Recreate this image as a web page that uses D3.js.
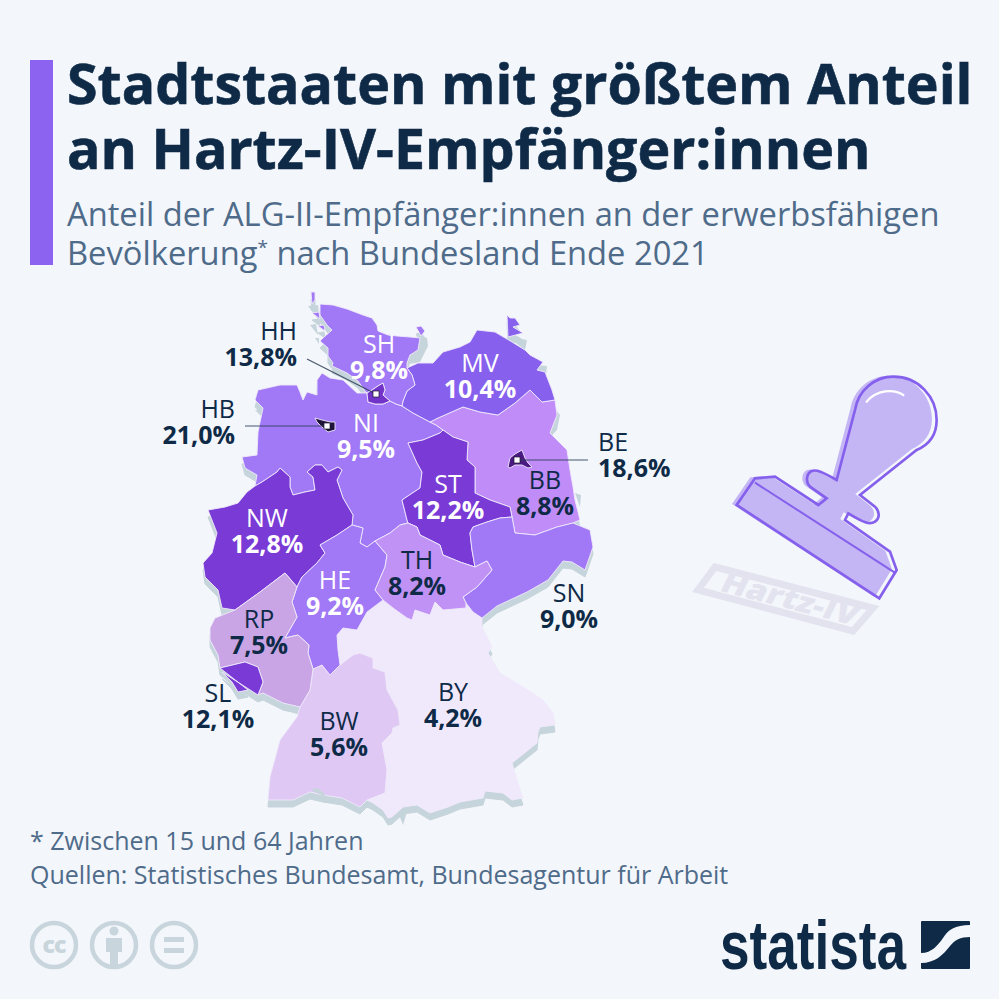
<!DOCTYPE html>
<html lang="de">
<head>
<meta charset="utf-8">
<title>Stadtstaaten mit größtem Anteil an Hartz-IV-Empfänger:innen</title>
<script src="https://cdn.jsdelivr.net/npm/d3@7"></script>
<style>
  html, body { margin: 0; padding: 0; background: #f3f6fa; }
  svg { display: block; font-family: "Open Sans", sans-serif; }
</style>
</head>
<body>
<svg id="chart" width="999" height="999" viewBox="0 0 999 999"></svg>
<script>
/* Choropleth of Germany. Borders are stored like a TopoJSON file: shared
   quantized arcs plus a transform back to lon/lat. */

// --- Data ---
const stateCodes = ["SH", "HH", "MV", "HB", "NI", "BB", "BE", "ST", "NW", "SN", "TH", "HE", "RP", "SL", "BW", "BY"];
const shares = [9.8, 13.8, 10.4, 21.0, 9.5, 8.8, 18.6, 12.2, 12.8, 9.0, 8.2, 9.2, 7.5, 12.1, 5.6, 4.2];

const titleLines = ["Stadtstaaten mit größtem Anteil", "an Hartz-IV-Empfänger:innen"];
const footnotes = ["* Zwischen 15 und 64 Jahren", "Quellen: Statistisches Bundesamt, Bundesagentur für Arbeit"];

// Quantized border arcs (grid units; decoded through arcTransform).
const arcTransform = { scale: [0.02345, -0.014838], translate: [1.1096, 59.3927] };
const arcs = {
  sh_coast: [[367,393],[365,391],[358,381],[347,373],[332,366],[333,363],[328,356],[328,348],[320,341],[323,338],[332,330],[327,325],[320,315],[320,304],[333,305],[347,309],[363,315],[372,318],[377,325],[378,331],[388,335],[397,336],[410,337],[420,338],[418,350],[410,355],[407,363],[407,368]],
  sh_mv: [[407,368],[412,375],[415,385],[407,391],[403,401],[402,406]],
  sh_ni: [[402,406],[396,404],[390,401]],
  hh_sh: [[367,393],[372,390],[378,386],[383,383],[385,390],[383,395],[390,401]],
  hh_ni: [[390,401],[383,404],[375,404],[368,402],[367,393]],
  ni_mv: [[402,406],[413,413],[430,422]],
  ni_bb: [[430,422],[436,425],[443,430]],
  ni_st: [[443,430],[440,433],[423,440],[408,443],[417,463],[422,472],[420,488],[402,500],[407,520],[408,523]],
  ni_th: [[408,523],[400,525],[390,533],[375,541]],
  ni_he: [[375,541],[367,547],[360,543],[363,528],[352,525]],
  ni_nw: [[352,525],[353,515],[343,498],[337,480],[342,470],[338,467],[328,472],[322,465],[315,465],[307,472],[313,477],[315,490],[305,492],[293,495],[290,487],[290,477],[280,468],[277,472],[262,482],[255,486]],
  ni_coast: [[255,486],[257,475],[245,468],[242,457],[257,455],[258,432],[263,408],[255,400],[258,390],[280,385],[297,385],[300,392],[303,400],[307,392],[317,395],[317,380],[322,373],[330,378],[343,380],[357,393],[367,393]],
  mv_coast: [[407,368],[418,363],[433,363],[443,352],[460,347],[470,342],[477,330],[495,332],[512,342],[525,350],[530,355],[543,362],[537,370],[545,372],[552,390],[555,400]],
  mv_bb: [[555,400],[542,402],[530,390],[515,403],[498,415],[480,412],[463,407],[438,418],[430,422]],
  bb_coast: [[555,400],[557,415],[550,433],[567,450],[570,470],[573,487],[575,500],[580,520],[573,523]],
  bb_sn: [[573,523],[557,527],[535,535],[515,533],[512,517]],
  bb_st: [[512,517],[510,507],[490,500],[475,493],[475,467],[467,460],[468,442],[453,437],[443,430]],
  st_sn: [[512,517],[500,518],[487,522],[473,527],[470,533],[472,550],[475,567]],
  st_th: [[475,567],[460,562],[443,555],[440,545],[420,535],[417,527],[408,523]],
  th_sn: [[475,567],[487,561],[492,570],[477,587],[463,597],[466,603]],
  th_by: [[466,603],[466,608],[443,610],[435,602],[430,615],[415,610],[412,620],[407,618],[393,608],[383,600]],
  he_th: [[383,600],[375,590],[385,567],[387,555],[375,541]],
  sn_coast: [[573,523],[590,530],[593,547],[585,570],[572,562],[563,561],[548,580],[527,592],[497,606],[482,618]],
  sn_by: [[482,618],[473,612],[466,603]],
  by_coast: [[482,618],[482,627],[492,647],[488,653],[500,673],[523,687],[543,700],[553,713],[555,725],[540,727],[538,732],[537,743],[512,763],[518,783],[523,798],[512,800],[503,793],[485,791],[483,798],[460,802],[448,807],[430,813],[417,805],[403,807],[392,817],[388,818],[383,810],[373,803],[367,800]],
  by_bw: [[367,800],[385,793],[387,770],[382,743],[392,733],[393,728],[400,725],[398,710],[387,690],[385,672],[373,668],[373,658],[360,653],[353,655],[340,665]],
  he_by: [[340,665],[338,650],[337,635],[343,628],[357,630],[367,612],[383,600]],
  he_bw: [[340,665],[330,675],[322,665],[313,669]],
  he_rp: [[313,669],[308,653],[309,645],[298,635],[285,638],[297,617],[292,602],[297,587]],
  he_nw: [[297,587],[302,577],[317,563],[325,553],[320,545],[337,535],[352,525]],
  nw_rp: [[297,587],[285,573],[260,592],[235,610]],
  nw_coast: [[235,610],[222,608],[218,590],[205,577],[203,563],[212,553],[217,533],[208,510],[225,507],[238,503],[247,492],[255,486]],
  rp_bw: [[313,669],[310,690],[300,707]],
  rp_coast: [[300,707],[283,703],[263,693],[258,695]],
  rp_sl: [[258,695],[263,682],[258,667],[245,662],[220,668]],
  rp_west: [[220,668],[218,655],[210,640],[210,628],[215,618],[235,610]],
  sl_coast: [[220,668],[222,672],[232,682],[238,692],[248,690],[258,695]],
  bw_coast: [[367,800],[360,807],[342,798],[323,795],[310,792],[293,800],[268,800],[270,777],[280,740],[297,717],[300,707]],
  hb_ring: [[315,418],[322,420],[330,422],[335,422],[335,430],[328,432],[322,427],[317,422],[315,418]],
  be_ring: [[508,467],[510,458],[515,454],[522,450],[525,458],[528,463],[532,467],[528,468],[522,465],[515,465],[510,468],[508,467]]
};

// Ring of each state as arc names; a leading "-" walks the arc backwards.
const stateRings = {
  SH: ["sh_coast", "sh_mv", "sh_ni", "-hh_sh"],
  HH: ["hh_sh", "hh_ni"],
  MV: ["mv_coast", "mv_bb", "-ni_mv", "-sh_mv"],
  HB: ["hb_ring"],
  NI: ["-hh_ni", "-sh_ni", "ni_mv", "ni_bb", "ni_st", "ni_th", "ni_he", "ni_nw", "ni_coast"],
  BB: ["-mv_bb", "bb_coast", "bb_sn", "bb_st", "-ni_bb"],
  BE: ["be_ring"],
  ST: ["-bb_st", "st_sn", "st_th", "-ni_st"],
  NW: ["-ni_nw", "-he_nw", "nw_rp", "nw_coast"],
  SN: ["-bb_sn", "sn_coast", "sn_by", "-th_sn", "-st_sn"],
  TH: ["-ni_th", "-st_th", "th_sn", "th_by", "he_th"],
  HE: ["-ni_he", "-he_th", "-he_by", "he_bw", "he_rp", "he_nw"],
  RP: ["-nw_rp", "-he_rp", "rp_bw", "rp_coast", "rp_sl", "rp_west"],
  SL: ["-rp_sl", "sl_coast"],
  BW: ["-by_bw", "bw_coast", "-rp_bw", "-he_bw"],
  BY: ["-th_by", "-sn_by", "by_coast", "by_bw", "he_by"]
};

// Islands belong to a state; mudflats and lakes are the grey patches.
const islands = [
  { code: "SH", ring: [[311,292],[315,292],[315,300],[312,304],[310,300]] },
  { code: "SH", ring: [[312,313],[319,312],[320,319],[314,321]] },
  { code: "SH", ring: [[318,326],[324,325],[325,331],[320,332]] },
  { code: "SH", ring: [[416,327],[421,326],[425,331],[421,336],[416,333]] },
  { code: "MV", ring: [[507,315],[510,318],[515,318],[520,325],[513,327],[523,333],[508,337],[500,327]] }
];
const mudflats = [
  [[308,306],[318,305],[320,322],[313,323]],
  [[310,325],[316,324],[318,335],[312,336]],
  [[328,327],[335,328],[335,333],[329,334]],
  [[315,338],[319,338],[319,344],[315,344]],
  [[327,355],[335,357],[335,364],[328,363]],
  [[333,371],[347,372],[354,379],[340,379]],
  [[418,336],[427,338],[428,346],[420,362],[410,364],[411,354]],
  [[255,410],[263,410],[263,418],[255,418]],
  [[242,467],[252,469],[256,478],[246,479]],
  [[508,337],[527,340],[525,350],[512,347]],
  [[537,365],[547,366],[546,375],[537,374]],
  [[556,410],[560,415],[557,430],[551,436],[548,432]],
  [[575,493],[581,495],[580,507],[576,507]],
  [[398,812],[407,812],[403,825],[393,830]]
];
const lakes = [
  [[311,790],[317,788],[323,792],[326,797],[318,797]]
];

// --- Layout and style ---
const bg = "#f3f6fa", navy = "#0e2a47", slate = "#4f6b8a", shadowGrey = "#c6d4db";

// Fill classes by share (%).
const shareColour = d3.scaleThreshold()
  .domain([5, 7, 8, 8.5, 9, 10, 12, 13, 15, 20])
  .range(["#f0e9fc", "#dfc8f3", "#c9a5e6", "#c192f5", "#bf8cf8", "#a178f6", "#8761ee", "#7a3ad6", "#7233c8", "#4a1a82", "#21143a"]);

// Label anchors: x, y of code baseline, anchor.
const labelAnchors = {
  SH: [379, 353, "middle"], MV: [480, 372, "middle"], NI: [366, 432, "middle"], NW: [267, 527, "middle"],
  ST: [448, 493, "middle"], BB: [545, 489, "middle"], SN: [569, 602, "middle"], TH: [417, 569, "middle"],
  HE: [335, 589, "middle"], RP: [259, 628, "middle"], SL: [218, 702, "middle"], BW: [339, 730, "middle"],
  BY: [453, 701, "middle"], HH: [297, 340, "end"], HB: [235, 418, "end"], BE: [598, 451, "start"]
};
const labelStep = 26;

// Leader lines: from label to marker, in grid units.
const leaders = [
  { from: [307, 359], to: [376, 394] },
  { from: [245, 426], to: [327, 426] },
  { from: [588, 460], to: [517, 460] }
];

const svg = d3.select("#chart");
const fmtShare = d3.formatLocale({ decimal: ",", thousands: ".", grouping: [3], currency: ["", "€"] }).format(".1f");

// --- Header ---
svg.append("rect").attr("width", 999).attr("height", 999).attr("fill", bg);
svg.append("rect").attr("x", 30).attr("y", 60).attr("width", 23).attr("height", 205).attr("fill", "#8b63f0");

svg.append("g").selectAll("text").data(titleLines).join("text")
  .attr("x", 67).attr("y", (d, i) => 104 + i * 65)
  .attr("font-size", 55.5).attr("font-weight", 700).attr("fill", navy)
  .attr("stroke", navy).attr("stroke-width", 0.6)
  .text(d => d);

const sub = svg.append("g").attr("font-size", 32.7).attr("fill", slate);
sub.append("text").attr("x", 67).attr("y", 226).text("Anteil der ALG-II-Empfänger:innen an der erwerbsfähigen");
const sub2 = sub.append("text").attr("x", 67).attr("y", 265);
sub2.append("tspan").text("Bevölkerung");
sub2.append("tspan").attr("font-size", 19).attr("dy", -11).text("*");
sub2.append("tspan").attr("dy", 11).text(" nach Bundesland Ende 2021");

// --- Map ---
const lonOf = q => arcTransform.translate[0] + q * arcTransform.scale[0];
const latOf = q => arcTransform.translate[1] + q * arcTransform.scale[1];
const decode = pts => pts.map(([x, y]) => [lonOf(x), latOf(y)]);

const mapX = d3.scaleLinear().domain([lonOf(0), lonOf(999)]).range([0, 999]);
const mapY = d3.scaleLinear().domain([latOf(0), latOf(999)]).range([0, 999]);
const projection = d3.geoTransform({
  point(lon, lat) { this.stream.point(mapX(lon), mapY(lat)); }
});
const geoPath = d3.geoPath(projection);

function ringOf(names) {
  const pts = [];
  for (const name of names) {
    const rev = name[0] === "-";
    const arc = arcs[rev ? name.slice(1) : name];
    const seq = rev ? arc.slice().reverse() : arc;
    pts.push(...(pts.length ? seq.slice(1) : seq));
  }
  return pts;
}
const polygon = (pts, props) => ({ type: "Feature", properties: props, geometry: { type: "Polygon", coordinates: [decode(pts)] } });

const shareByCode = new Map(stateCodes.map((c, i) => [c, shares[i]]));
const states = stateCodes.map(code => polygon(ringOf(stateRings[code]), { code, share: shareByCode.get(code) }));
const isles = islands.map(d => polygon(d.ring, { code: d.code, share: shareByCode.get(d.code) }));

// Big states first, so the city states end up on top.
const drawOrder = states.concat(isles).sort((a, b) => geoPath.area(b) - geoPath.area(a));

const map = svg.append("g");

// Drop shadow: the whole outline moved down.
map.append("g").attr("transform", "translate(0,7)")
  .selectAll("path").data(drawOrder).join("path")
  .attr("d", geoPath).attr("fill", shadowGrey).attr("stroke", shadowGrey);

map.append("g").selectAll("path").data(mudflats.map(r => polygon(r, {}))).join("path")
  .attr("d", geoPath).attr("fill", shadowGrey);

map.append("g").selectAll("path").data(drawOrder).join("path")
  .attr("d", geoPath)
  .attr("fill", d => shareColour(d.properties.share))
  .attr("stroke", "#efeafc").attr("stroke-width", 0.9).attr("stroke-linejoin", "round");

map.append("g").selectAll("path").data(lakes.map(r => polygon(r, {}))).join("path")
  .attr("d", geoPath).attr("fill", shadowGrey);

// Leader lines and city markers.
map.append("g").selectAll("line").data(leaders).join("line")
  .attr("x1", d => mapX(lonOf(d.from[0]))).attr("y1", d => mapY(latOf(d.from[1])))
  .attr("x2", d => mapX(lonOf(d.to[0]))).attr("y2", d => mapY(latOf(d.to[1])))
  .attr("stroke", "#2c3c55").attr("stroke-width", 1.2).attr("opacity", 0.85);

map.append("g").selectAll("rect").data(leaders).join("rect")
  .attr("x", d => mapX(lonOf(d.to[0])) - 3).attr("y", d => mapY(latOf(d.to[1])) - 3)
  .attr("width", 6).attr("height", 6).attr("fill", "#fff").attr("stroke", "#1d1733").attr("stroke-width", 0.7);

// State labels: white on dark fills, navy on pale ones and outside the map.
const outsideCodes = ["SN", "SL", "HH", "HB", "BE"];
const labelColour = (code, share) => (!outsideCodes.includes(code) && share >= 9) ? "#fff" : navy;

const labels = svg.append("g").selectAll("g").data(stateCodes).join("g")
  .attr("text-anchor", c => labelAnchors[c][2]);
labels.append("text")
  .attr("x", c => labelAnchors[c][0]).attr("y", c => labelAnchors[c][1])
  .attr("font-size", 25).attr("fill", c => labelColour(c, shareByCode.get(c)))
  .text(c => c);
labels.append("text")
  .attr("x", c => labelAnchors[c][0]).attr("y", c => labelAnchors[c][1] + labelStep)
  .attr("font-size", 25).attr("font-weight", 700).attr("fill", c => labelColour(c, shareByCode.get(c)))
  .text(c => fmtShare(shareByCode.get(c)) + "%");

// --- Stamp illustration (drawn at 3x, scaled down) ---
const stamp = svg.append("g").attr("transform", "translate(680,360) scale(0.3333)");
const stampShape = "M470,360 L525,150 C535,90 585,50 640,50 C715,50 770,110 770,180 C770,225 745,255 710,270 L540,405 L585,440 C600,455 600,475 585,485 C570,495 555,490 505,460 L495,480 L630,575 L650,630 L598,715 L170,435 L225,355 L285,350 L415,435 L440,415 L390,380 C375,365 380,340 395,333 C410,328 425,335 470,360 Z";
stamp.append("path").attr("d", stampShape).attr("transform", "translate(-14,-3)").attr("fill", "#c4b6f5");
stamp.append("path").attr("d", stampShape).attr("fill", "none").attr("stroke", "#8560ec").attr("stroke-width", 8);
stamp.append("path").attr("d", "M225,368 L648,640").attr("fill", "none").attr("stroke", "#8560ec").attr("stroke-width", 6);
stamp.append("path").attr("d", "M560,125 C590,90 640,85 670,105").attr("fill", "none").attr("stroke", "#fff").attr("stroke-width", 7).attr("stroke-linecap", "round");

const imprint = svg.append("g");
imprint.append("path").attr("d", "M715,567 L873,608 L853,631 L698,590 Z")
  .attr("fill", "none").attr("stroke", "#e3e3ef").attr("stroke-width", 7);
imprint.append("text")
  .attr("transform", "translate(786,608) rotate(14.5) skewX(-12)")
  .attr("text-anchor", "middle").attr("font-size", 29).attr("font-weight", 800).attr("fill", "#e3e3ef")
  .attr("textLength", 140).attr("lengthAdjust", "spacingAndGlyphs")
  .text("Hartz-IV");

// --- Footer ---
svg.append("g").selectAll("text").data(footnotes).join("text")
  .attr("x", 30).attr("y", (d, i) => 850 + i * 34)
  .attr("font-size", 25).attr("fill", slate)
  .text(d => d);

// Licence icons.
const ccGrey = "#c8d5dc";
const icons = svg.append("g");
icons.selectAll("circle").data([54, 114, 174]).join("circle")
  .attr("cx", d => d).attr("cy", 945).attr("r", 22)
  .attr("fill", "none").attr("stroke", ccGrey).attr("stroke-width", 4.5);
icons.append("text").attr("x", 54).attr("y", 953).attr("text-anchor", "middle")
  .attr("font-size", 23).attr("font-weight", 800).attr("fill", ccGrey).attr("letter-spacing", -1).text("cc");
icons.append("circle").attr("cx", 114).attr("cy", 931).attr("r", 4.5).attr("fill", ccGrey);
icons.append("path").attr("d", "M106,938 H122 V952 H118 V965 H110 V952 H106 Z").attr("fill", ccGrey);
icons.append("path").attr("d", "M164,937 H184 V942 H164 Z M164,948 H184 V953 H164 Z").attr("fill", ccGrey);

// Statista logo.
svg.append("text").attr("x", 720).attr("y", 969)
  .attr("font-family", "'Liberation Sans Narrow', 'Liberation Sans', sans-serif")
  .attr("font-size", 68).attr("font-weight", 700).attr("fill", navy)
  .attr("textLength", 186).attr("lengthAdjust", "spacingAndGlyphs")
  .text("statista");
svg.append("rect").attr("x", 921).attr("y", 921).attr("width", 49).attr("height", 48).attr("rx", 1).attr("fill", navy);
svg.append("path").attr("d", "M921,953 C932,953 938,945 943,938 C948,930 955,925 970,925 L970,937 C960,937 955,940 950,946 C943,955 935,963 921,963 Z").attr("fill", bg);
</script>
</body>
</html>
